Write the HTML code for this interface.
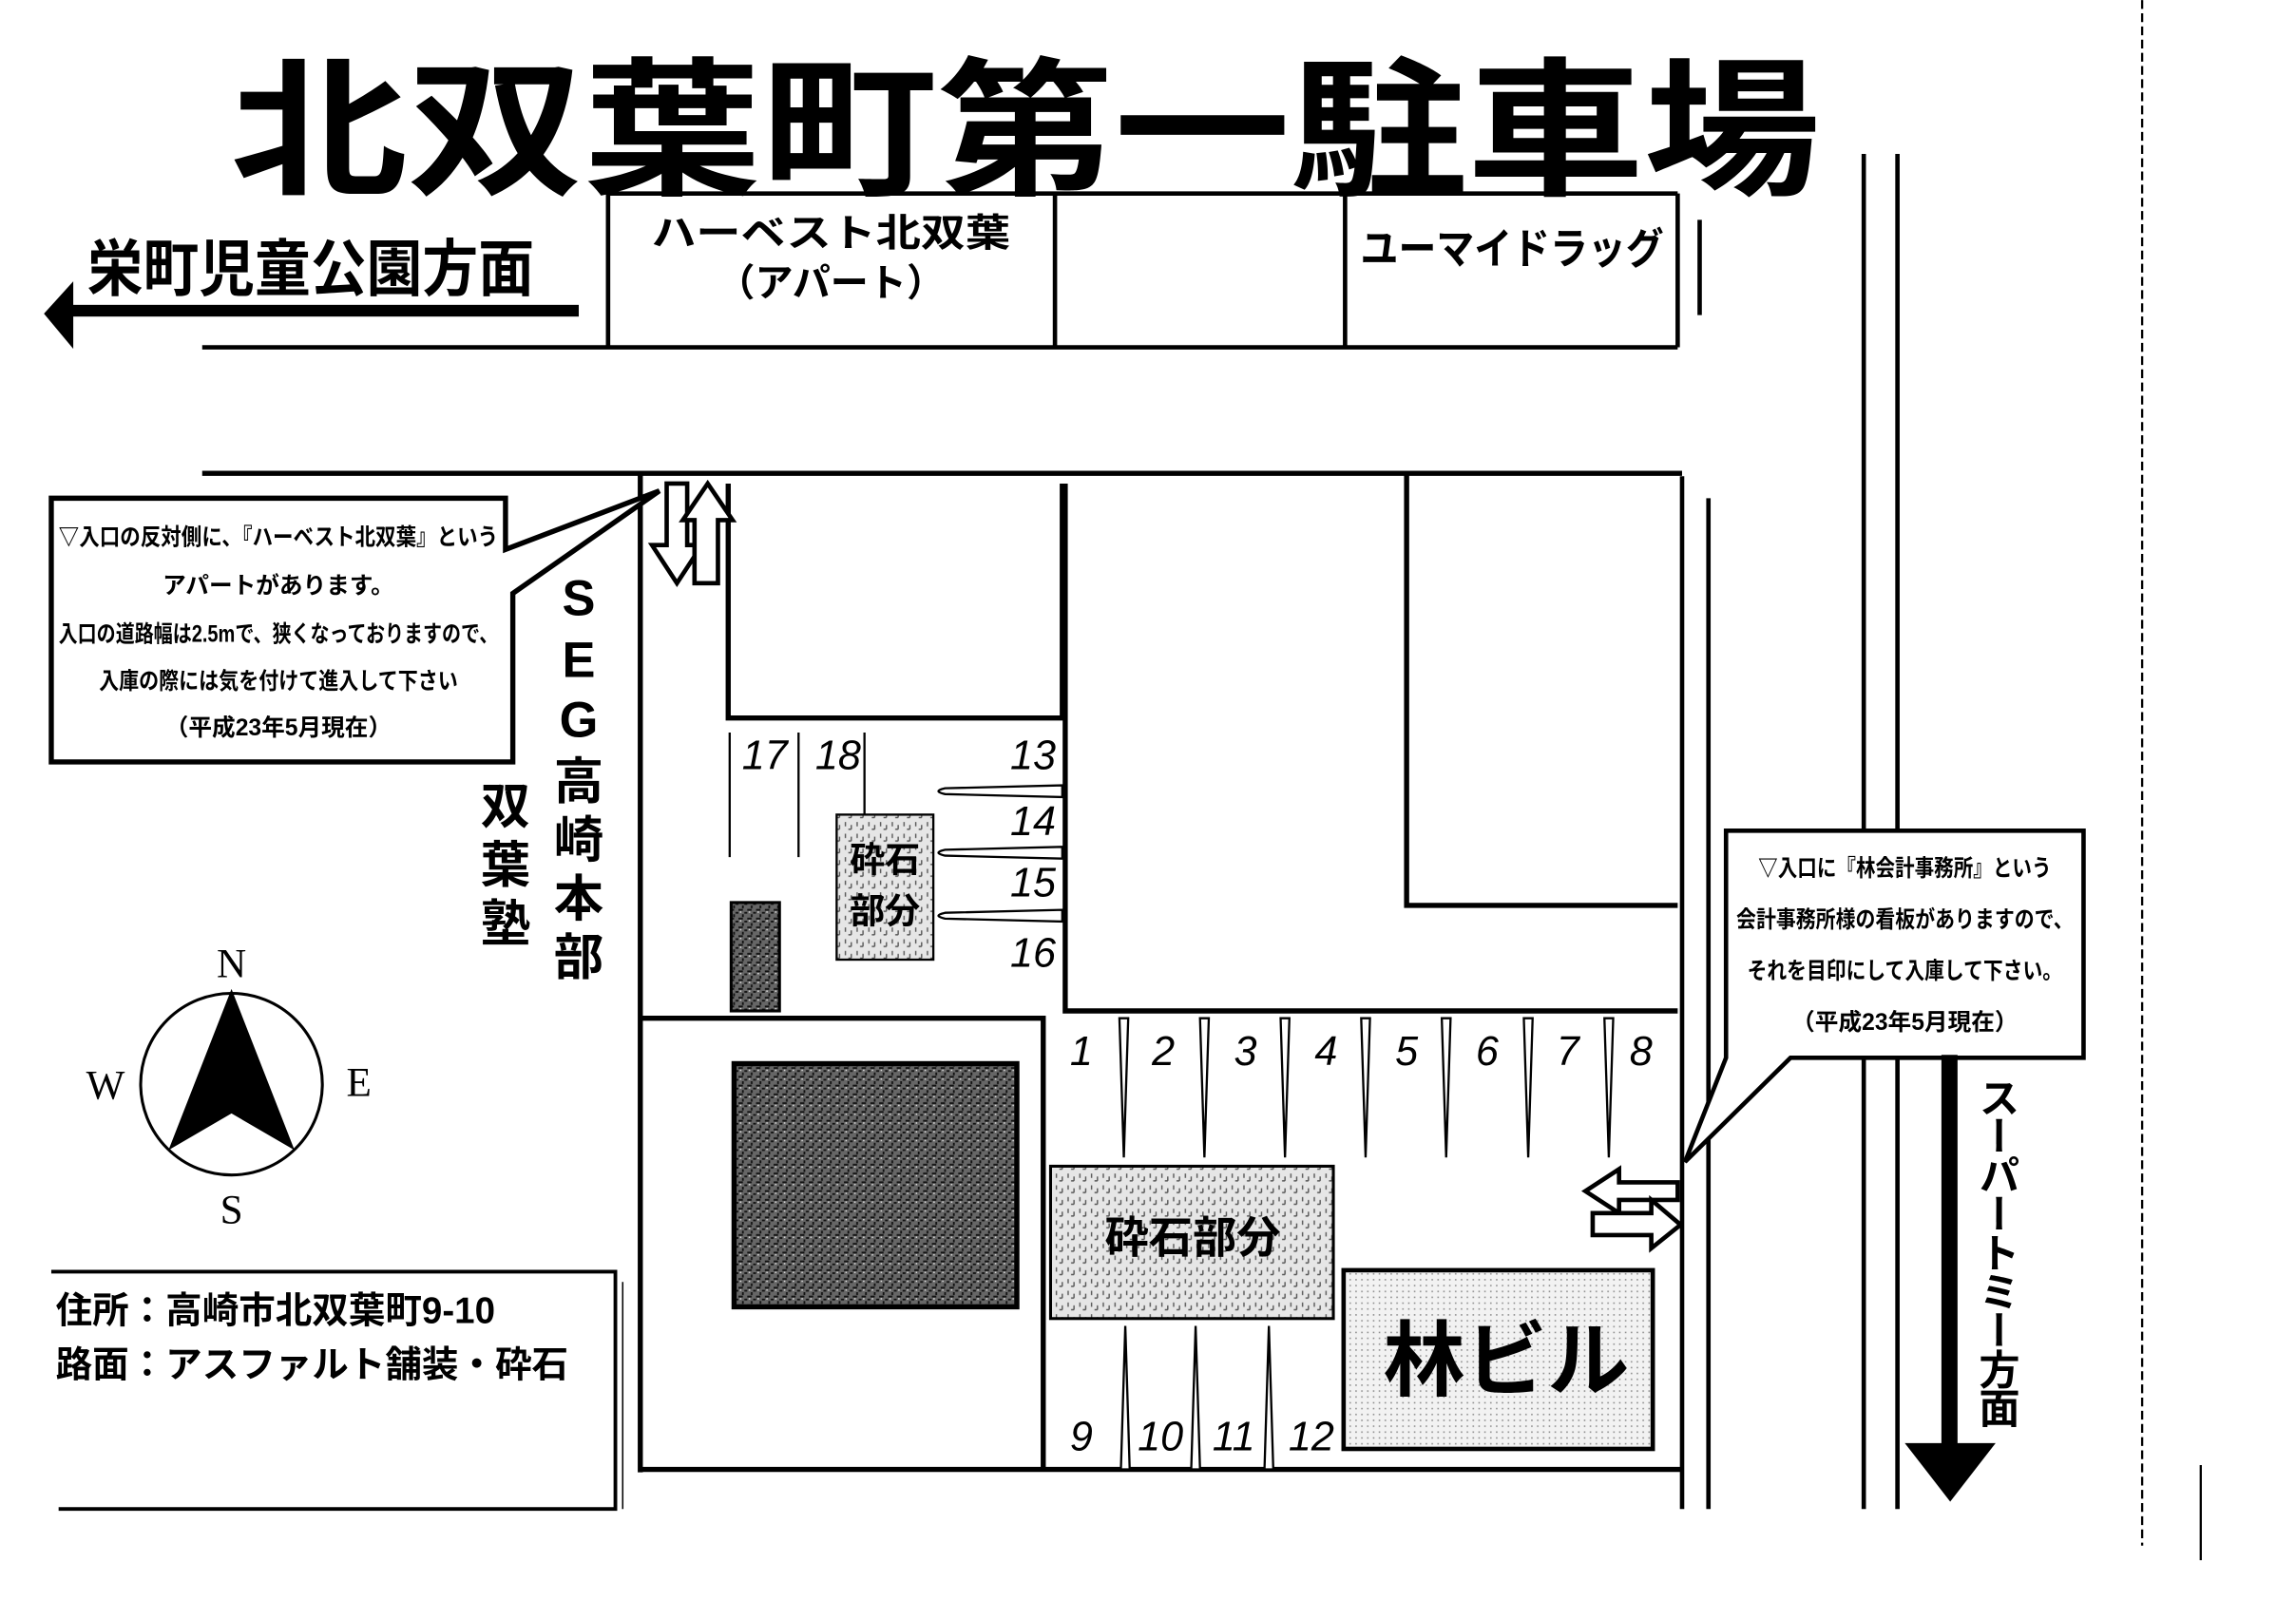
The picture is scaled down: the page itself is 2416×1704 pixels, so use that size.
<!DOCTYPE html>
<html><head><meta charset="utf-8"><style>
html,body{margin:0;padding:0;background:#fff;}
svg{display:block;}
text{font-family:"Liberation Sans","Noto Sans CJK JP",sans-serif;fill:#000;}
</style></head><body>
<svg width="2416" height="1704" viewBox="0 0 1567 1105" xmlns="http://www.w3.org/2000/svg">
<defs>
<pattern id="dk" width="6" height="6" patternUnits="userSpaceOnUse"><rect width="6" height="6" fill="#666"/><path d="M0 3h3M3 0v2M4 5h2" stroke="#111" stroke-width="1.2"/><rect x="1" y="4" width="1" height="1" fill="#ddd"/></pattern>
<pattern id="gr" width="8" height="8" patternUnits="userSpaceOnUse"><rect width="8" height="8" fill="#e6e6e6"/><path d="M1 1v3M5 3v3M3 6h2" stroke="#555" stroke-width="0.9"/></pattern>
<pattern id="lt" width="4" height="4" patternUnits="userSpaceOnUse"><rect width="4" height="4" fill="#f2f2f2"/><rect x="1" y="1" width="1" height="1" fill="#888"/></pattern>
</defs>
<rect width="1567" height="1105" fill="#fff"/>
<text x="700" y="125" font-size="102" font-weight="bold" text-anchor="middle" textLength="1085" lengthAdjust="spacingAndGlyphs">北双葉町第一駐車場</text>
<g stroke="#000" stroke-width="3" fill="none">
<line x1="415" y1="132" x2="1145" y2="132"/>
<line x1="415" y1="132" x2="415" y2="237"/>
<line x1="720" y1="132" x2="720" y2="237"/>
<line x1="918" y1="132" x2="918" y2="237"/>
<line x1="1145" y1="132" x2="1145" y2="237"/>
<line x1="138" y1="237" x2="1145" y2="237"/>
<line x1="1160" y1="150" x2="1160" y2="215"/>
<line x1="1272" y1="105" x2="1272" y2="1030"/>
<line x1="1295" y1="105" x2="1295" y2="1030"/>
<line x1="1148" y1="325" x2="1148" y2="1030"/>
<line x1="1166" y1="340" x2="1166" y2="1030"/>
<line x1="1462" y1="0" x2="1462" y2="1055" stroke-width="1.5" stroke-dasharray="6 3"/>
<line x1="1502" y1="1000" x2="1502" y2="1065" stroke-width="1.5"/>
</g>
<text x="212" y="198" font-size="42" font-weight="bold" text-anchor="middle" textLength="305" lengthAdjust="spacingAndGlyphs">栄町児童公園方面</text>
<rect x="45" y="208" width="350" height="8" fill="#000"/>
<polygon points="30,214 50,192 50,238" fill="#000"/>
<text x="567" y="168" font-size="26" font-weight="bold" text-anchor="middle" textLength="245" lengthAdjust="spacingAndGlyphs">ハーベスト北双葉</text>
<text x="567" y="202" font-size="26" font-weight="bold" text-anchor="middle">（アパート）</text>
<text x="1032" y="180" font-size="29" font-weight="bold" text-anchor="middle" textLength="207" lengthAdjust="spacingAndGlyphs">ユーマイドラッグ</text>
<g stroke="#000" stroke-width="3.5" fill="none">
<line x1="138" y1="323" x2="1148" y2="323"/>
<line x1="437" y1="323" x2="437" y2="1005"/>
<line x1="437" y1="1003" x2="1148" y2="1003"/>
<polyline points="497,330 497,490 725,490 725,330"/>
<polyline points="727,330 727,690 1145,690"/>
<polyline points="960,323 960,618 1145,618"/>
<polyline points="437,695 712,695 712,1003"/>
</g>
<polygon points="35,340 35,520 350,520 350,405 450,335 345,375 345,340" fill="#fff" stroke="#000" stroke-width="3.5"/>
<g font-size="16" font-weight="bold" text-anchor="middle">
<text x="190" y="372" textLength="300" lengthAdjust="spacingAndGlyphs">▽入口の反対側に、『ハーベスト北双葉』という</text>
<text x="190" y="405">アパートがあります。</text>
<text x="190" y="438" textLength="300" lengthAdjust="spacingAndGlyphs">入口の道路幅は2.5mで、狭くなっておりますので、</text>
<text x="190" y="470" textLength="245" lengthAdjust="spacingAndGlyphs">入庫の際には気を付けて進入して下さい</text>
<text x="190" y="502">（平成23年5月現在）</text>
</g>
<g fill="#fff" stroke="#000" stroke-width="3">
<polygon points="455,330 455,372 445,372 462,398 479,372 469,372 469,330"/>
<polygon points="474,398 474,355 466,355 483,330 500,355 490,355 490,398"/>
</g>
<g font-size="34" font-weight="bold" text-anchor="middle">
<text x="395" y="420">S</text><text x="395" y="462">E</text><text x="395" y="503">G</text>
<text x="395" y="545">高</text><text x="395" y="585">崎</text><text x="395" y="625">本</text><text x="395" y="665">部</text>
<text x="345" y="562">双</text><text x="345" y="602">葉</text><text x="345" y="642">塾</text>
</g>
<g stroke="#000" stroke-width="1.5">
<line x1="498" y1="500" x2="498" y2="585"/><line x1="545" y1="500" x2="545" y2="585"/><line x1="590" y1="500" x2="590" y2="585"/>
</g>
<g font-size="28" font-style="italic" text-anchor="middle">
<text x="522" y="525">17</text><text x="572" y="525">18</text>
<text x="705" y="525">13</text><text x="705" y="570">14</text><text x="705" y="612">15</text><text x="705" y="660">16</text>
</g>
<rect x="499" y="616" width="33" height="74" fill="url(#dk)" stroke="#000" stroke-width="2"/>
<rect x="571" y="556" width="66" height="99" fill="url(#gr)" stroke="#000" stroke-width="1.5"/>
<text x="604" y="595" font-size="24" font-weight="bold" text-anchor="middle">砕石</text>
<text x="604" y="630" font-size="24" font-weight="bold" text-anchor="middle">部分</text>
<g fill="#fff" stroke="#000" stroke-width="1.5">
<path d="M725 536 L645 538 Q636 540 645 542 L725 544Z"/>
<path d="M725 578 L645 580 Q636 582 645 584 L725 586Z"/>
<path d="M725 621 L645 623 Q636 625 645 627 L725 629Z"/>
</g>
<g fill="#fff" stroke="#000" stroke-width="1.5">
<path d="M764 695 L767 790 L770 695Z"/>
<path d="M819 695 L822 790 L825 695Z"/>
<path d="M874 695 L877 790 L880 695Z"/>
<path d="M929 695 L932 790 L935 695Z"/>
<path d="M984 695 L987 790 L990 695Z"/>
<path d="M1040 695 L1043 790 L1046 695Z"/>
<path d="M1095 695 L1098 790 L1101 695Z"/>
<path d="M765 1003 L768 905 L771 1003Z"/>
<path d="M813 1003 L816 905 L819 1003Z"/>
<path d="M863 1003 L866 905 L869 1003Z"/>
</g>
<g font-size="28" font-style="italic" text-anchor="middle">
<text x="738" y="727">1</text><text x="794" y="727">2</text><text x="850" y="727">3</text><text x="905" y="727">4</text>
<text x="960" y="727">5</text><text x="1015" y="727">6</text><text x="1070" y="727">7</text><text x="1120" y="727">8</text>
<text x="738" y="990">9</text><text x="792" y="990">10</text><text x="842" y="990">11</text><text x="895" y="990">12</text>
</g>
<rect x="501" y="726" width="193" height="166" fill="url(#dk)" stroke="#000" stroke-width="3.5"/>
<rect x="717" y="796" width="193" height="104" fill="url(#gr)" stroke="#000" stroke-width="2"/>
<text x="814" y="855" font-size="30" font-weight="bold" text-anchor="middle">砕石部分</text>
<rect x="917" y="867" width="211" height="122" fill="url(#lt)" stroke="#000" stroke-width="3"/>
<text x="1028" y="948" font-size="56" font-weight="bold" text-anchor="middle">林ビル</text>
<g fill="#fff" stroke="#000" stroke-width="3">
<polygon points="1145,807 1105,807 1105,798 1082,813 1105,828 1105,819 1145,819"/>
<polygon points="1087,828 1127,828 1127,819 1147,836 1127,852 1127,843 1087,843"/>
</g>
<polygon points="1178,567 1422,567 1422,722 1222,722 1150,793 1178,722" fill="#fff" stroke="#000" stroke-width="3"/>
<g font-size="16" font-weight="bold" text-anchor="middle">
<text x="1300" y="598" textLength="200" lengthAdjust="spacingAndGlyphs">▽入口に『林会計事務所』という</text>
<text x="1300" y="633" textLength="230" lengthAdjust="spacingAndGlyphs">会計事務所様の看板がありますので、</text>
<text x="1300" y="668" textLength="215" lengthAdjust="spacingAndGlyphs">それを目印にして入庫して下さい。</text>
<text x="1300" y="703">（平成23年5月現在）</text>
</g>
<rect x="1325" y="720" width="11" height="270" fill="#000"/>
<polygon points="1300,985 1362,985 1331,1025" fill="#000"/>
<text x="1362" y="735" font-size="28" font-weight="bold" style="writing-mode:vertical-rl" textLength="240" lengthAdjust="spacing">スーパートミー方面</text>
<circle cx="158" cy="740" r="62" fill="#fff" stroke="#000" stroke-width="2"/>
<polygon points="158,675 115,785 158,760 201,785" fill="#000"/>
<g font-size="28" text-anchor="middle">
<text x="158" y="667" style="font-family:'Liberation Serif',serif">N</text>
<text x="158" y="835" style="font-family:'Liberation Serif',serif">S</text>
<text x="72" y="750" style="font-family:'Liberation Serif',serif">W</text>
<text x="245" y="748" style="font-family:'Liberation Serif',serif">E</text>
</g>
<polyline points="35,868 420,868 420,1030 40,1030" fill="none" stroke="#000" stroke-width="2.5"/>
<line x1="425" y1="875" x2="425" y2="1030" stroke="#000" stroke-width="1"/>
<text x="38" y="903" font-size="25" font-weight="bold">住所：高崎市北双葉町9-10</text>
<text x="38" y="940" font-size="25" font-weight="bold">路面：アスファルト舗装・砕石</text>
</svg>
</body></html>
